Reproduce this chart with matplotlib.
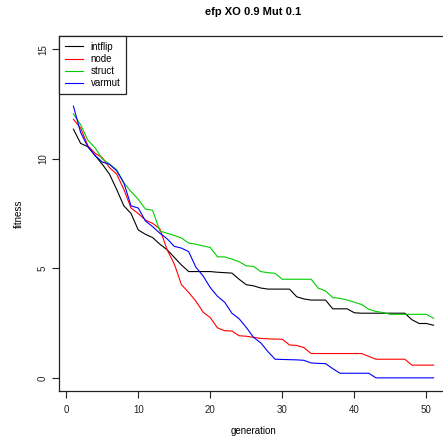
import matplotlib
matplotlib.use("Agg")
import matplotlib.pyplot as plt
import numpy as np

plt.rcParams['font.family'] = ['Liberation Sans', 'DejaVu Sans']

generation = list(range(1, 52))

intflip = [11.35, 10.7, 10.55, 10.15, 9.75, 9.3, 8.6, 7.85, 7.5, 6.75,
           6.55, 6.4, 6.1, 5.85, 5.5, 5.15, 4.85, 4.85, 4.85, 4.85,
           4.82, 4.8, 4.78, 4.5, 4.25, 4.2, 4.1, 4.05, 4.05, 4.05,
           4.05, 3.7, 3.6, 3.55, 3.55, 3.55, 3.15, 3.15, 3.15, 2.97,
           2.95, 2.95, 2.95, 2.95, 2.95, 2.95, 2.95, 2.65, 2.48, 2.48,
           2.4]

node = [11.8, 11.4, 10.6, 10.25, 10.05, 9.6, 9.3, 8.6, 7.75, 7.5,
        7.2, 7.05, 6.8, 5.85, 5.2, 4.25, 3.9, 3.5, 3.0, 2.75,
        2.28, 2.15, 2.14, 1.92, 1.9, 1.85, 1.8, 1.78, 1.77, 1.76,
        1.5, 1.48, 1.38, 1.11, 1.11, 1.11, 1.11, 1.11, 1.11, 1.11,
        1.11, 0.98, 0.85, 0.85, 0.85, 0.85, 0.85, 0.58, 0.58, 0.58,
        0.58]

struct = [12.05, 11.55, 10.85, 10.5, 10.0, 9.75, 9.5, 8.9, 8.5, 8.15,
          7.7, 7.65, 6.7, 6.6, 6.5, 6.38, 6.15, 6.1, 6.02, 5.95,
          5.52, 5.52, 5.42, 5.3, 5.11, 5.09, 4.85, 4.8, 4.77, 4.5,
          4.5, 4.5, 4.5, 4.5, 4.09, 3.97, 3.66, 3.63, 3.55, 3.45,
          3.35, 3.13, 3.03, 2.98, 2.9, 2.9, 2.9, 2.9, 2.9, 2.9,
          2.72]

varmut = [12.4, 11.2, 10.55, 10.15, 9.85, 9.75, 9.45, 8.9, 7.85, 7.75,
          7.16, 6.9, 6.6, 6.35, 6.0, 5.92, 5.76, 5.05, 4.65, 4.12,
          3.72, 3.45, 2.95, 2.7, 2.3, 1.85, 1.6, 1.2, 0.85, 0.84,
          0.83, 0.82, 0.8, 0.68, 0.66, 0.65, 0.42, 0.21, 0.21, 0.21,
          0.21, 0.21, 0.0, 0.0, 0.0, 0.0, 0.0, 0.0, 0.0, 0.0,
          0.0]

series_names = ["intflip", "node", "struct", "varmut"]
series_colors = ["#000000", "#FF0000", "#00CD00", "#0000FF"]
x_ticks = [0, 10, 20, 30, 40, 50]
y_ticks = [0, 5, 10, 15]

W, H = 443, 441
fig = plt.figure(figsize=(W / 100, H / 100), dpi=100)
left, right, bottom, top = 59, 448, 391, 36
ax = fig.add_axes([left / W, 1 - bottom / H, (right - left) / W, (bottom - top) / H])

for name, vals, col in zip(series_names, [intflip, node, struct, varmut], series_colors):
    ax.plot(generation, vals, color=col, lw=0.8, label=name)

ax.set_xlim(-1, 53)
ax.set_ylim(-0.6, 15.6)
ax.set_xticks(x_ticks)
ax.set_yticks(y_ticks)
ax.set_yticklabels([str(v) for v in y_ticks], rotation=90, va='center')
ax.tick_params(axis='both', direction='out', length=5, width=0.8,
               labelsize=7, colors='#222222')
ax.tick_params(axis='x', pad=5)
ax.tick_params(axis='y', pad=3)
for s in ax.spines.values():
    s.set_linewidth(0.9)
    s.set_color('#222222')

ax.set_xlabel("generation", fontsize=7, labelpad=8)
ax.set_ylabel("fitness", fontsize=7, labelpad=10)
fig.text((left + right) / 2 / W, 1 - 12 / H, "efp XO 0.9 Mut 0.1",
         ha='center', va='center', fontsize=8, fontweight='bold')

leg = ax.legend(loc='upper left', bbox_to_anchor=(0, 1), borderaxespad=0,
                fancybox=False, fontsize=7, handlelength=1.85, handletextpad=0.8,
                labelspacing=0.22, borderpad=0.6, framealpha=1)
leg.get_frame().set_edgecolor('#222222')
leg.get_frame().set_linewidth(0.9)

fig.savefig("out.png", dpi=100)
